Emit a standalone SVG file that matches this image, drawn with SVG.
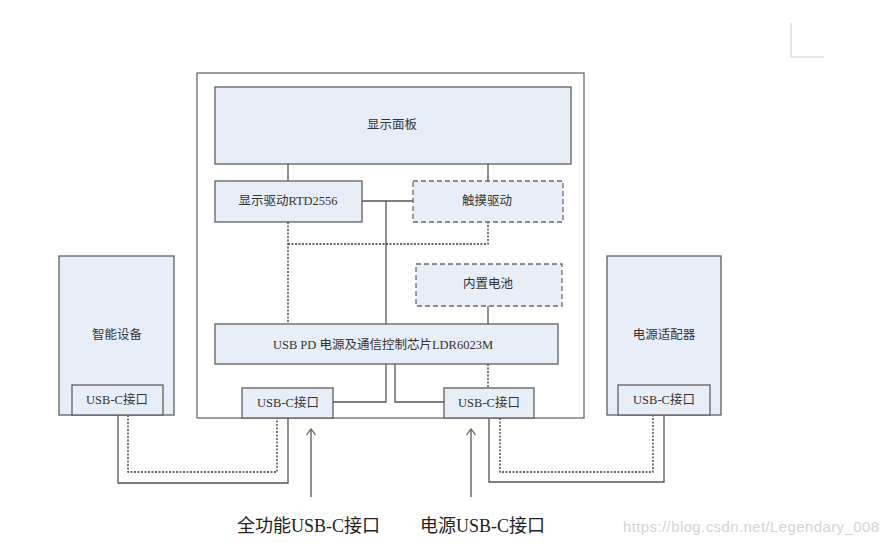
<svg xmlns="http://www.w3.org/2000/svg" width="883" height="543" viewBox="0 0 883 543">
<defs>
<style>
.box{fill:#E8EEF8;stroke:#5f5f5f;stroke-width:1.3}
.dbox{fill:#E8EEF8;stroke:#6a6a6a;stroke-width:1.3;stroke-dasharray:5,3}
.outer{fill:#fff;stroke:#6a6a6a;stroke-width:1.3}
.t{font-family:"Liberation Serif","Noto Sans CJK SC",serif;font-size:12.5px;fill:#333;text-anchor:middle;dominant-baseline:central}
.big{font-family:"Liberation Serif","Noto Sans CJK SC",serif;font-size:18px;fill:#222;dominant-baseline:central}
.ln{fill:none;stroke:#555;stroke-width:1.3}
.dl{fill:none;stroke:#333;stroke-width:1.3;stroke-dasharray:2,1.5}
</style>
<marker id="open" viewBox="0 0 10 10" refX="9" refY="5" markerWidth="10" markerHeight="10" markerUnits="userSpaceOnUse" orient="auto">
<path d="M3,0.5 L9,5 L3,9.5" fill="none" stroke="#555" stroke-width="1.2"/>
</marker>
</defs>
<rect width="883" height="543" fill="#fff"/>
<path d="M791,23 V57 H824" fill="none" stroke="#e0e0e0" stroke-width="1.5"/>
<g id="host">
<rect class="outer" x="197" y="73" width="387" height="345"/>
</g>
<g id="connectors">
<path class="ln" d="M288,164 V181"/>
<path class="ln" d="M488,164 V181"/>
<path class="ln" d="M362,201 H413"/>
<path class="ln" d="M386,201 V324"/>
<path class="dl" d="M288,222 V324"/>
<path class="dl" d="M288,244 H488 V222"/>
<path class="ln" d="M488,306 V324"/>
<path class="ln" d="M386,364 V402 H333"/>
<path class="ln" d="M395,364 V402 H444"/>
<path class="dl" d="M488,364 V388"/>
<path class="ln" d="M118,415 V483 H288 V418"/>
<path class="dl" d="M128,415 V472 H277 V418"/>
<path class="ln" d="M489,418 V482 H664 V415"/>
<path class="dl" d="M500,418 V472 H653 V415"/>
<path class="ln" d="M311,497 V429" marker-end="url(#open)"/>
<path class="ln" d="M471,497 V429" marker-end="url(#open)"/>
</g>
<g id="panel"><rect class="box" x="215" y="87" width="356" height="77"/><text class="t" x="392" y="125">显示面板</text></g>
<g id="rtd"><rect class="box" x="215" y="181" width="147" height="41"/><text class="t" x="288" y="201">显示驱动RTD2556</text></g>
<g id="touch"><rect class="dbox" x="413" y="181" width="150" height="41"/><text class="t" x="487" y="201">触摸驱动</text></g>
<g id="battery"><rect class="dbox" x="416" y="264" width="146" height="42"/><text class="t" x="488" y="284">内置电池</text></g>
<g id="pd"><rect class="box" x="215" y="324" width="343" height="40"/><text class="t" x="383" y="345">USB PD 电源及通信控制芯片LDR6023M</text></g>
<g id="usbc-left"><rect class="box" x="242" y="388" width="91" height="30"/><text class="t" x="288" y="403">USB-C接口</text></g>
<g id="usbc-right"><rect class="box" x="444" y="388" width="90" height="30"/><text class="t" x="489" y="403">USB-C接口</text></g>
<g id="device"><rect class="box" x="59" y="256" width="115" height="159"/><text class="t" x="117" y="335">智能设备</text><rect class="box" x="72" y="385" width="91" height="30"/><text class="t" x="117" y="400">USB-C接口</text></g>
<g id="adapter"><rect class="box" x="607" y="256" width="114" height="159"/><text class="t" x="664" y="335">电源适配器</text><rect class="box" x="618" y="385" width="92" height="30"/><text class="t" x="664" y="400">USB-C接口</text></g>
<g id="labels">
<text class="big" x="237" y="526">全功能USB-C接口</text>
<text class="big" x="420" y="526">电源USB-C接口</text>
<text x="623" y="526" font-family="Liberation Sans, sans-serif" font-size="15px" fill="#d4d4d4" dominant-baseline="central" textLength="256">https://blog.csdn.net/Legendary_008</text>
</g>
</svg>
